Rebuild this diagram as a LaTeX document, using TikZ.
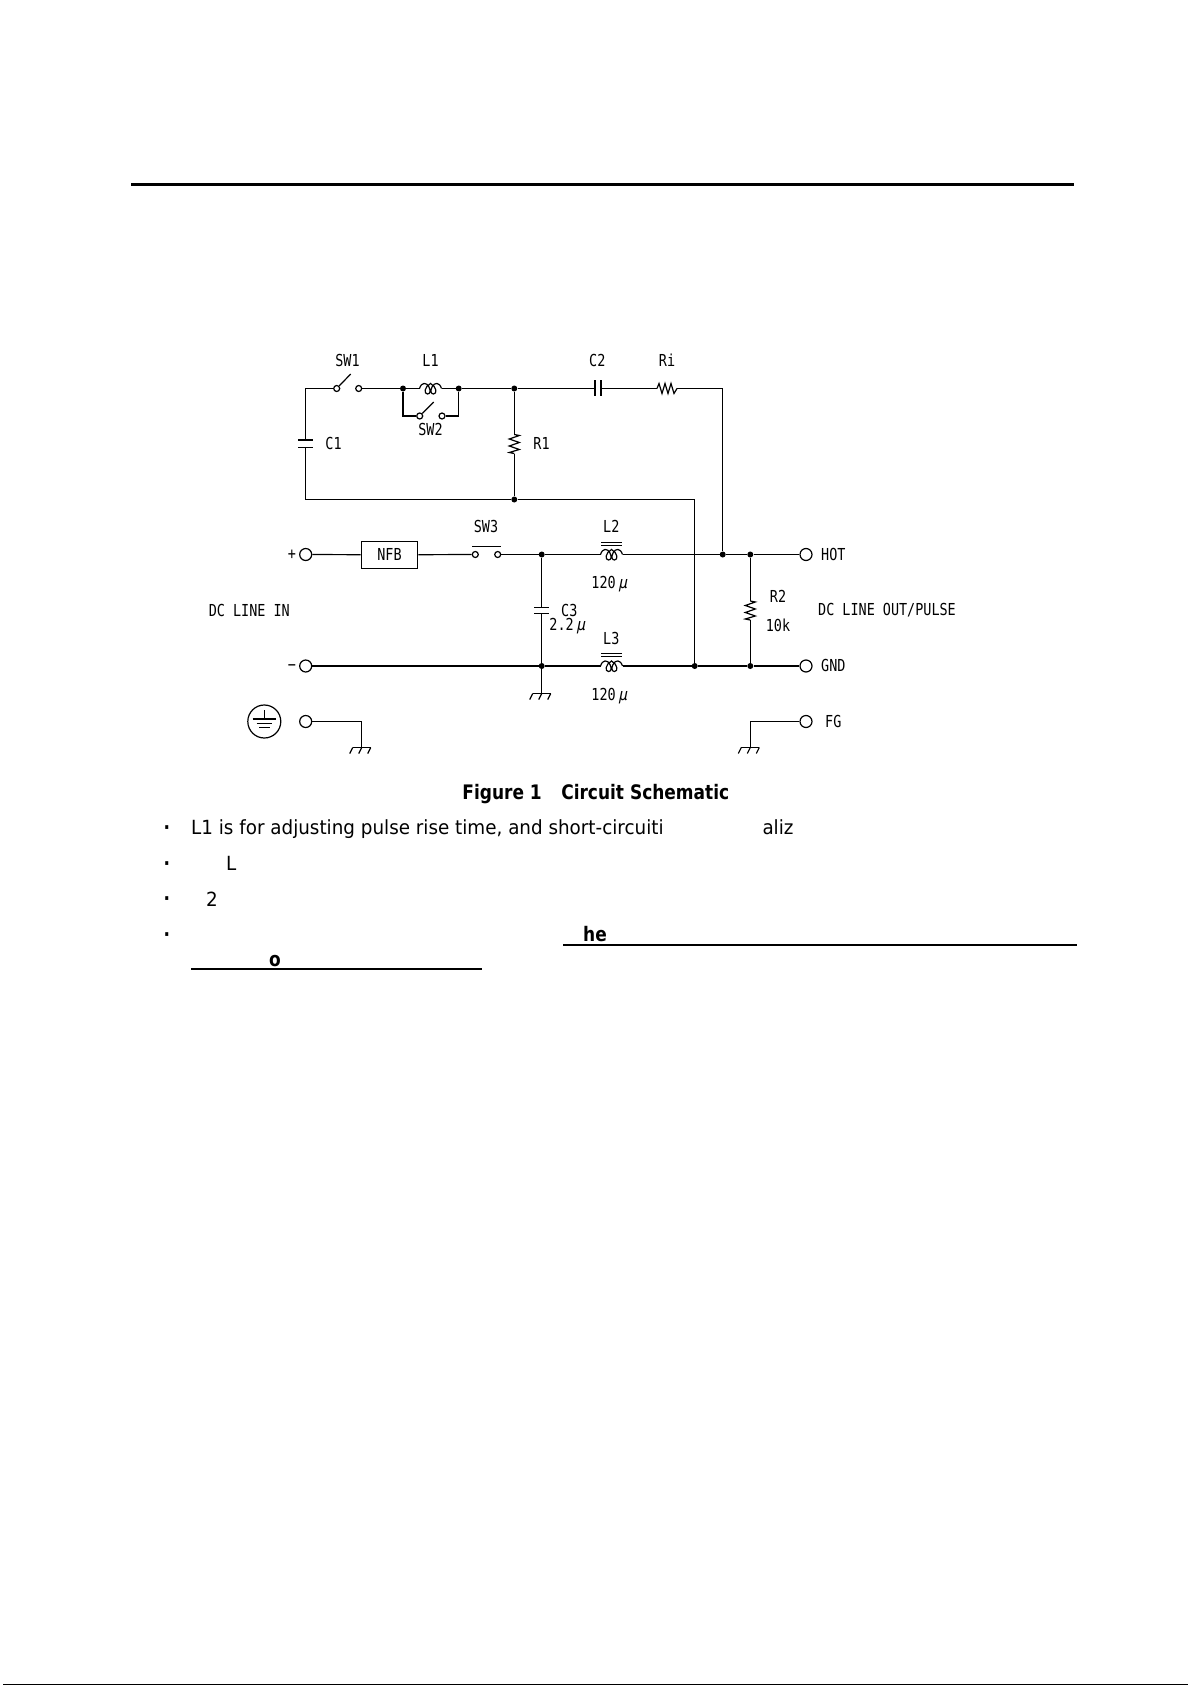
\documentclass[tikz,border=0pt]{standalone}
\usepackage{fontspec}
\setmainfont{DejaVu Sans}
\newfontfamily\schemfont[FakeStretch=0.815]{DejaVu Sans Mono}
\newfontfamily\mufont[FakeStretch=0.9, FakeSlant=0.2]{DejaVu Sans Mono}
\newfontfamily\notefont[FakeStretch=0.94]{DejaVu Sans}
\newfontfamily\capfont[FakeStretch=0.85]{DejaVu Sans Bold}
\newcommand{\micro}{\hspace{2.5pt}{\mufont μ}}
\tikzset{
    wire/.style={line width=1.2pt},
    heavy/.style={line width=2.4pt},
    dot/.style={circle, fill=black, inner sep=0pt, minimum size=6pt},
    term/.style={circle, draw, line width=1.2pt, inner sep=0pt, minimum size=12pt},
    contact/.style={circle, draw, line width=1.2pt, inner sep=0pt, minimum size=6pt},
    lab/.style={font=\schemfont\fontsize{16.5}{17}\selectfont, inner sep=0pt},
    note/.style={font=\notefont\fontsize{19.5}{22}\selectfont, inner sep=0pt, anchor=base west},
    boldnote/.style={font=\capfont\fontsize{20}{22}\selectfont, inner sep=0pt, anchor=base west},
    coil/.pic={
        \draw[wire] (-11,0) .. controls (-9,-6.5) and (-4,-6.5) .. (-1.5,-1.5) .. controls (0.5,2.5) and (-0.5,5.5) .. (-3,5.5)
            .. controls (-7,5.5) and (-6,-2) .. (0,-5) .. controls (6,-2) and (7,5.5) .. (3,5.5)
            .. controls (0.5,5.5) and (-0.5,2.5) .. (1.5,-1.5) .. controls (4,-6.5) and (9,-6.5) .. (11,0);
        \coordinate (-a) at (-11,0);
        \coordinate (-b) at (11,0);
    },
    res/.pic={
        \draw[wire] (-10,0) -- (-8,-5) -- (-5,5) -- (-2,-5) -- (1,5) -- (4,-5) -- (7,5) -- (10,0);
        \coordinate (-a) at (-10,0);
        \coordinate (-b) at (10,0);
    },
    vres/.pic={
        \draw[wire] (0,-9.5) -- (5,-8.5) -- (-5,-5) -- (5,-1.5) -- (-5,2) -- (5,5.5) -- (-5,8.5) -- (0,9.5);
        \coordinate (-a) at (0,-9.5);
        \coordinate (-b) at (0,9.5);
    },
    gnd/.pic={
        \draw[wire] (-9,0) -- (9,0);
        \draw[wire] (-9,0) -- (-12,6);
        \draw[wire] (0,0) -- (-3,6);
        \draw[wire] (9,0) -- (6,6);
    },
}
\begin{document}
\begin{tikzpicture}[x=1pt, y=-1pt]
    \useasboundingbox (0,0) rectangle (1191,1685);

    % page rules
    \coordinate (ruleL) at (131,184.3);
    \coordinate (ruleR) at (1074,184.3);
    \draw[line width=3pt] (ruleL) -- (ruleR);
    \coordinate (scanL) at (3,1684.2);
    \coordinate (scanR) at (1188,1684.2);
    \draw[line width=1pt] (scanL) -- (scanR);

    % junctions
    \node[dot] (jL1a) at (403,388.5) {};
    \node[dot] (jL1b) at (458.7,388.5) {};
    \node[dot] (jR1a) at (514.3,388.5) {};
    \node[dot] (jR1b) at (514.3,499.5) {};
    \node[dot] (jC3a) at (541.7,554.5) {};
    \node[dot] (jC3b) at (541.7,666) {};
    \node[dot] (jRi) at (722.7,554.5) {};
    \node[dot] (jR2a) at (750.3,554.5) {};
    \node[dot] (jR2b) at (750.3,666) {};
    \node[dot] (jRet) at (694.7,666) {};

    % terminals
    \node[term] (tPlus) at (305.7,554.5) {};
    \node[term] (tMinus) at (305.7,666) {};
    \node[term] (tFGl) at (305.7,721.5) {};
    \node[term] (tHot) at (806,554.5) {};
    \node[term] (tGnd) at (806,666) {};
    \node[term] (tFGr) at (806,721.5) {};

    % switches
    \node[contact] (sw1a) at (336.7,388.5) {};
    \node[contact] (sw1b) at (358.7,388.5) {};
    \coordinate (sw1t) at (350.7,374);
    \draw[wire] (sw1a) -- (sw1t);
    \node[contact] (sw2a) at (419.7,416) {};
    \node[contact] (sw2b) at (442,416) {};
    \coordinate (sw2t) at (433.7,402);
    \draw[wire] (sw2a) -- (sw2t);
    \node[contact] (sw3a) at (475.3,554.5) {};
    \node[contact] (sw3b) at (497.7,554.5) {};
    \coordinate (sw3l) at (472.3,546.5);
    \coordinate (sw3r) at (500.7,546.5);
    \draw[wire] (sw3l) -- (sw3r);

    % breaker
    \node[draw, line width=1.2pt, minimum width=56.4pt, minimum height=27pt, inner sep=0pt,
          font=\schemfont\fontsize{16.5}{17}\selectfont] (nfb) at (389.5,554.8) {NFB};

    % coils, resistors
    \pic (l1) at (430.5,388.5) {coil};
    \pic (l2) at (611.5,554.5) {coil};
    \pic (l3) at (611.5,666) {coil};
    \pic (ri) at (667,388.5) {res};
    \pic (r1) at (514.3,444) {vres};
    \pic (r2) at (750.3,610.5) {vres};
    \draw[line width=1.2pt] (601,542.5) -- (622.3,542.5);
    \draw[line width=1.2pt] (601,545.5) -- (622.3,545.5);
    \draw[line width=1.2pt] (601,653.5) -- (622.3,653.5);
    \draw[line width=1.2pt] (601,656.5) -- (622.3,656.5);

    % capacitors
    \coordinate (c1a) at (305.7,440);
    \coordinate (c1b) at (305.7,447.3);
    \draw[wire] (298,440) -- (313,440);
    \draw[wire] (298,447.3) -- (313,447.3);
    \coordinate (c2a) at (595,388.5);
    \coordinate (c2b) at (601.3,388.5);
    \draw[wire] (595,380) -- (595,396);
    \draw[line width=2.2pt] (601.3,380) -- (601.3,396);
    \coordinate (c3a) at (541.7,607.5);
    \coordinate (c3b) at (541.7,613.5);
    \draw[wire] (534,607.5) -- (549.3,607.5);
    \draw[wire] (534,613.5) -- (549.3,613.5);

    % grounds
    \pic at (541.7,693.5) {gnd};
    \pic at (361.7,747.5) {gnd};
    \pic at (750.3,747.5) {gnd};
    \coordinate (g3) at (541.7,693.5);
    \coordinate (gl) at (361.7,747.5);
    \coordinate (gr) at (750.3,747.5);
    \coordinate (cnrL) at (361.7,721.5);
    \coordinate (cnrR) at (750.3,721.5);
    \coordinate (cnrA) at (305.7,388.5);
    \coordinate (cnrB) at (305.7,499.5);
    \coordinate (cnrC) at (722.7,388.5);
    \coordinate (cnrD) at (694.7,499.5);
    \coordinate (cnrE) at (403,416);
    \coordinate (cnrF) at (458.7,416);

    % wires
    \draw[wire] (c1a) -- (cnrA) -- (sw1a);
    \draw[wire] (sw1b) -- (jL1a) -- (l1-a);
    \draw[wire] (l1-b) -- (jL1b) -- (jR1a) -- (c2a);
    \draw[wire] (c2b) -- (ri-a);
    \draw[wire] (ri-b) -- (cnrC) -- (jRi);
    \draw[line width=1.8pt] (jL1a) -- (cnrE) -- (sw2a);
    \draw[wire] (sw2b) -- (cnrF) -- (jL1b);
    \draw[wire] (jR1a) -- (r1-a);
    \draw[wire] (r1-b) -- (jR1b);
    \draw[wire] (c1b) -- (cnrB) -- (jR1b) -- (cnrD) -- (jRet);
    \draw[wire] (tPlus) -- (nfb);
    \draw[wire] (nfb) -- (sw3a);
    \draw[wire] (sw3b) -- (jC3a) -- (l2-a);
    \draw[wire] (l2-b) -- (jRi) -- (jR2a) -- (tHot);
    \draw[wire] (jC3a) -- (c3a);
    \draw[wire] (c3b) -- (jC3b) -- (g3);
    \draw[heavy] (tMinus) -- (jC3b) -- (l3-a);
    \draw[heavy] (l3-b) -- (jRet) -- (jR2b) -- (tGnd);
    \draw[wire] (jR2a) -- (r2-a);
    \draw[wire] (r2-b) -- (jR2b);
    \draw[wire] (tFGl) -- (cnrL) -- (gl);
    \draw[wire] (tFGr) -- (cnrR) -- (gr);

    % earth mark
    \node[circle, draw, line width=1.2pt, inner sep=0pt, minimum size=33pt] (earth) at (264.3,721.5) {};
    \draw[wire] (264.3,710) -- (264.3,719);
    \draw[wire] (252.7,719) -- (276,719);
    \draw[wire] (256.7,723.5) -- (272,723.5);
    \draw[wire] (259,727.5) -- (269.5,727.5);

    % labels
    \node[lab] (tSW1) at (347.5,360.7) {SW1};
    \node[lab] (tL1) at (430.5,360.7) {L1};
    \node[lab] (tC2) at (597.3,360.7) {C2};
    \node[lab] (tRi) at (667,360.7) {Ri};
    \node[lab] (tSW2) at (430.5,429) {SW2};
    \node[lab] (tC1) at (333.5,443) {C1};
    \node[lab] (tR1) at (541.5,443) {R1};
    \node[lab] (tSW3) at (486,526.7) {SW3};
    \node[lab] (tL2) at (611.3,526.7) {L2};
    \node[lab] (tV2) at (609.3,584) {120\micro};
    \node[lab] (tL3) at (611.3,638.3) {L3};
    \node[lab] (tV3) at (609.3,695.7) {120\micro};
    \node[lab] (tC3) at (569.3,610) {C3};
    \node[lab] (tV4) at (567.3,626.5) {2.2\micro};
    \node[lab] (tR2) at (778,596.7) {R2};
    \node[lab] (tV5) at (778,625) {10k};
    \node[lab] (tIn) at (249.3,610.3) {DC LINE IN};
    \node[lab] (tOut) at (887,610.3) {DC LINE OUT/PULSE};
    \node[lab] (tP) at (292,555) {+};
    \node[lab] (tM) at (292,668) {−};
    \node[lab] (tHOT) at (833.3,554.5) {HOT};
    \node[lab] (tGND) at (833.3,665.5) {GND};
    \node[lab] (tFG) at (833.3,721.5) {FG};

    % caption and notes
    \node[boldnote] (cap) at (462.2,799) {Figure 1\hspace{19.5pt}Circuit Schematic};
    \node[note] (n1) at (191,834) {L1 is for adjusting pulse rise time, and short-circuiti};
    \node[note] (n1b) at (762.3,834) {aliz};
    \node[note] (n2) at (226,870) {L};
    \node[note] (n3) at (206,906) {2};
    \node[boldnote] (n4) at (583,941) {he};
    \node[boldnote] (n5) at (269,966) {o};
    \foreach \i/\y in {a/834.5, b/870, c/905.5, d/941}
        \node[boldnote] (bul\i) at (163.5,\y) {·};
    \coordinate (ulaL) at (563.3,945);
    \coordinate (ulaR) at (1076.7,945);
    \draw[line width=2pt] (ulaL) -- (ulaR);
    \coordinate (ulbL) at (191,969);
    \coordinate (ulbR) at (482,969);
    \draw[line width=2pt] (ulbL) -- (ulbR);
\end{tikzpicture}
\end{document}
